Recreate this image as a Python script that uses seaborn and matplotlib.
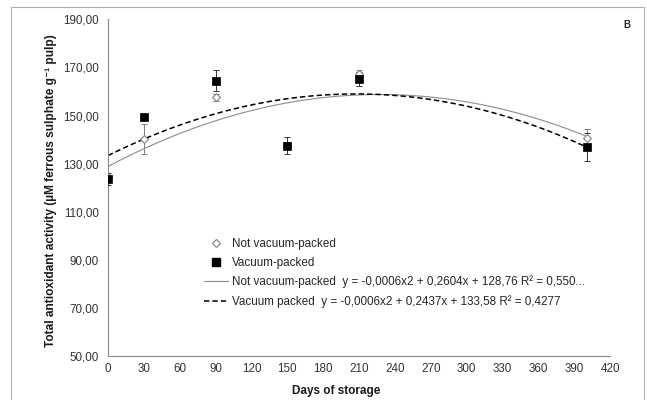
import numpy as np
import pandas as pd
import matplotlib
matplotlib.use("Agg")
import matplotlib.pyplot as plt
import seaborn as sns
from matplotlib.lines import Line2D
from matplotlib.patches import Rectangle

# ---- data ----
days = [0, 30, 90, 150, 210, 401]
not_vacuum = [124.5, 140.1, 157.6, 137.5, 167.3, 140.8]
not_vacuum_err = [1.5, 6.3, 1.5, 1.5, 1.5, 3.5]
vacuum = [123.6, 149.2, 164.4, 137.5, 165.2, 137.0]
vacuum_err = [2.4, 1.0, 4.4, 3.6, 3.0, 5.8]

x_ticks = [0, 30, 60, 90, 120, 150, 180, 210, 240, 270, 300, 330, 360, 390, 420]
y_ticks = [50, 70, 90, 110, 130, 150, 170, 190]
y_tick_labels = ["50,00", "70,00", "90,00", "110,00", "130,00", "150,00", "170,00", "190,00"]

label_nv = "Not vacuum-packed"
label_v = "Vacuum-packed"
label_nv_fit = "Not vacuum-packed  y = -0,0006x2 + 0,2604x + 128,76 R\u00b2 = 0,550..."
label_v_fit = "Vacuum packed  y = -0,0006x2 + 0,2437x + 133,58 R\u00b2 = 0,4277"

df = pd.DataFrame({"days": days, "nv": not_vacuum, "nv_err": not_vacuum_err,
                   "v": vacuum, "v_err": vacuum_err})

sns.set_style("white")
plt.rcParams["font.family"] = ["Liberation Sans", "DejaVu Sans"]

fig = plt.figure(figsize=(6.47, 4.0), dpi=100)
ax = fig.add_axes([108 / 647, 1 - 356 / 400, (610 - 108) / 647, (356 - 19.3) / 400])

gray = "#7f7f7f"

# trend lines (quadratic fits computed by seaborn)
sns.regplot(data=df, x="days", y="nv", order=2, ci=None, scatter=False, ax=ax,
            line_kws=dict(color="#8c8c8c", lw=0.8, ls="-"))
sns.regplot(data=df, x="days", y="v", order=2, ci=None, scatter=False, ax=ax,
            line_kws=dict(color="black", lw=1.1, ls=(0, (3.5, 2))))

# error bars
ax.errorbar(df["days"], df["nv"], yerr=df["nv_err"], fmt="none", ecolor=gray,
            elinewidth=0.7, capsize=2.5, capthick=0.7, zorder=3)
ax.errorbar(df["days"], df["v"], yerr=df["v_err"], fmt="none", ecolor="#333333",
            elinewidth=0.7, capsize=2.5, capthick=0.7, zorder=3)

# points
sns.scatterplot(data=df, x="days", y="nv", marker="D", s=16, facecolor="white",
                edgecolor="#808080", linewidth=0.8, ax=ax, zorder=4)
sns.scatterplot(data=df, x="days", y="v", marker="s", s=36, color="black",
                edgecolor="black", linewidth=0.5, ax=ax, zorder=5)

ax.set_xlim(0, 420)
ax.set_ylim(50, 190)
ax.set_xticks(x_ticks)
ax.set_xticklabels([str(t) for t in x_ticks])
ax.set_yticks(y_ticks)
ax.set_yticklabels(y_tick_labels)

for s in ["top", "right"]:
    ax.spines[s].set_visible(False)
for s in ["left", "bottom"]:
    ax.spines[s].set_color("#8a8a8a")
    ax.spines[s].set_linewidth(0.8)

ax.tick_params(axis="x", direction="in", length=3, width=0.7, color="#8a8a8a",
               labelsize=8.4, labelcolor="#333333", pad=5)
ax.tick_params(axis="y", direction="out", length=3, width=0.7, color="#8a8a8a",
               labelsize=8.4, labelcolor="#333333", pad=3.5)

ax.set_xlabel("Days of storage", fontsize=8.5, fontweight="bold", color="#1a1a1a")
ax.xaxis.set_label_coords((336 - 108) / 502, -(385 - 356) / 336.7)
ax.set_ylabel("Total antioxidant activity (\u00b5M ferrous sulphate g\u207b\u00b9 pulp)",
              fontsize=8.6, fontweight="bold", color="#1a1a1a")
ax.yaxis.set_label_coords(-(108 - 57) / 502, 0.49)

# legend
handles = [
    Line2D([], [], ls="none", marker="D", markersize=4, markerfacecolor="white",
           markeredgecolor="#808080", markeredgewidth=0.8),
    Line2D([], [], ls="none", marker="s", markersize=5.5, color="black"),
    Line2D([], [], color="#8c8c8c", lw=0.8),
    Line2D([], [], color="black", lw=1.1, ls=(0, (3.5, 2))),
]
labels = [label_nv, label_v, label_nv_fit, label_v_fit]
fig.legend(handles, labels, loc="upper left", bbox_to_anchor=(204 / 647, 1 - 238 / 400),
           frameon=False, fontsize=8.4, labelspacing=0.58, handlelength=2.1,
           handletextpad=0.3, borderpad=0, borderaxespad=0, labelcolor="#262626")

fig.text(627 / 647, 1 - 25 / 400, "B", fontsize=7, fontweight="bold",
         ha="center", va="center")

# figure frame
fig.patches.append(Rectangle((11 / 647, -0.02), (644 - 11) / 647, 1 - 7 / 400 + 0.02,
                             transform=fig.transFigure, fill=False,
                             edgecolor="#b0b0b0", lw=0.8))

fig.savefig("out.png", dpi=100)
